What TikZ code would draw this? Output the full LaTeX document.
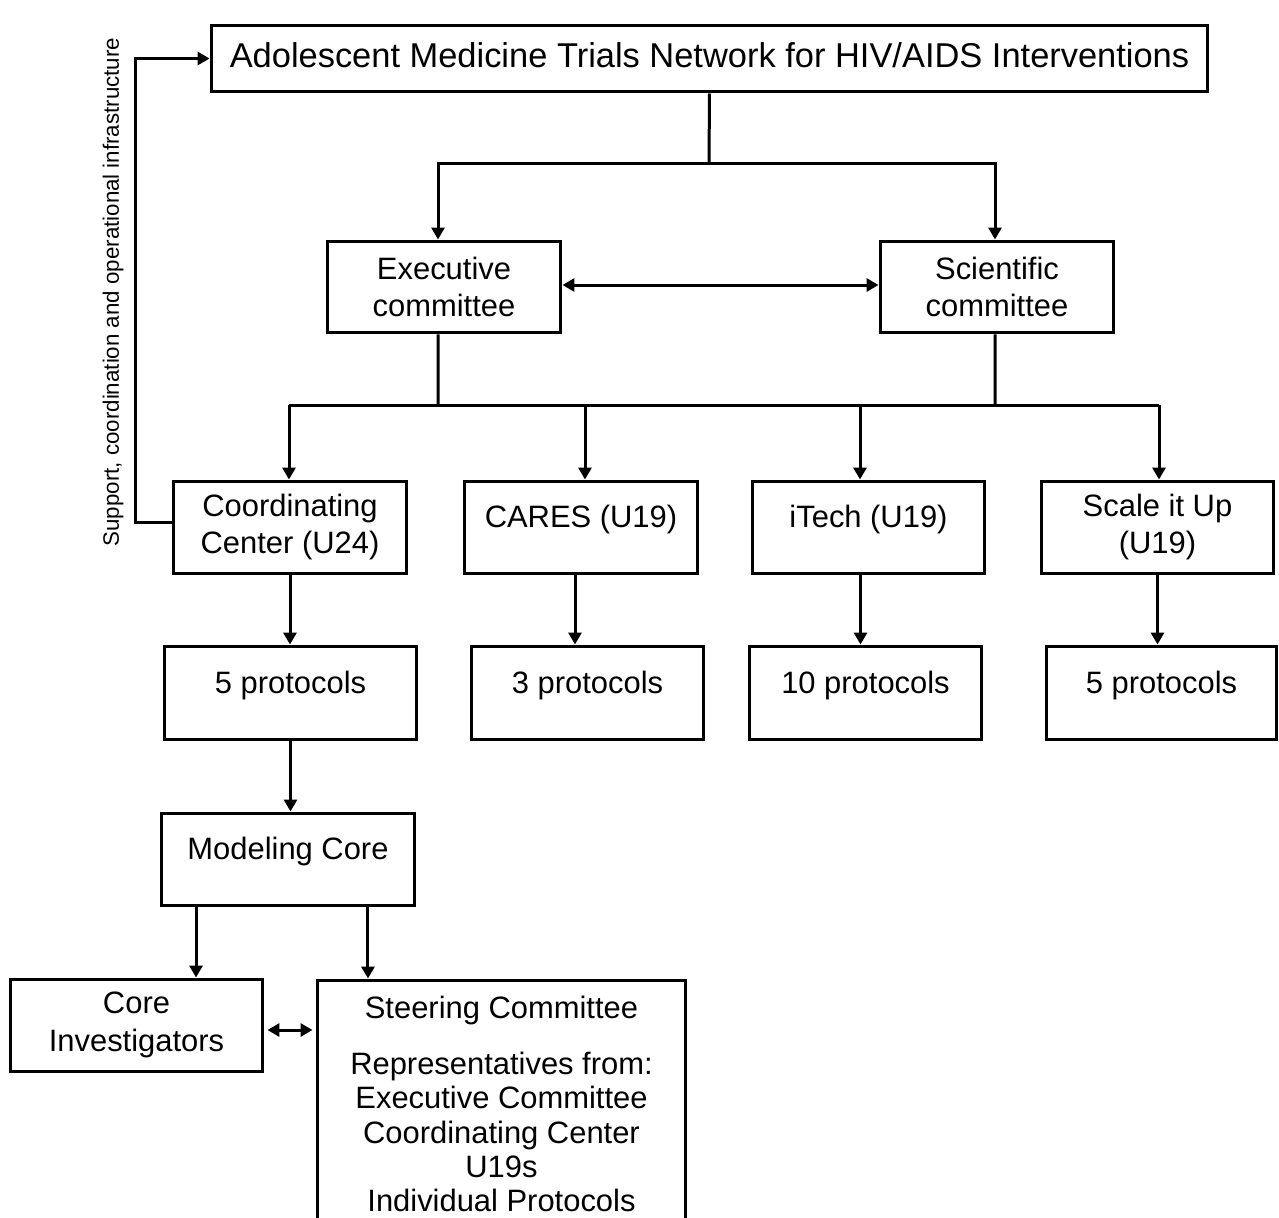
\documentclass[tikz,border=0pt]{standalone}
\usepackage{fontspec}
\setmainfont{Liberation Sans}
\usetikzlibrary{arrows.meta}
\begin{document}
\begin{tikzpicture}[x=0.02cm,y=-0.02cm,
 mainfont/.style={font=\fontsize{17.6}{21.2}\selectfont},
 box/.style={draw,line width=0.06cm,rectangle,inner sep=0pt,align=center,mainfont},
 lbl/.style={inner sep=0pt,align=center,mainfont},
 conn/.style={line width=0.06cm},
 arr/.style={conn,-{Triangle[length=0.24cm,width=0.26cm]}},
 darr/.style={conn,{Triangle[length=0.24cm,width=0.26cm]}-{Triangle[length=0.24cm,width=0.26cm]}}]
\useasboundingbox (0,0) rectangle (1279,1218);
\clip (0,0) rectangle (1279,1218);
% boxes
\node[box,minimum width=19.94cm,minimum height=1.34cm] (top) at (709.5,58.5) {};
\node[lbl,font=\fontsize{19.6}{23}\selectfont] (topT) at ([yshift=0.07cm]top.center) {Adolescent Medicine Trials Network for HIV/AIDS Interventions};
\node[box,minimum width=4.68cm,minimum height=1.84cm] (exec) at (444,287) {Executive\\committee};
\node[box,minimum width=4.68cm,minimum height=1.84cm] (sci) at (997,287) {Scientific\\committee};
\node[box,minimum width=4.68cm,minimum height=1.84cm] (coord) at (290,527) {Coordinating\\Center (U24)};
\node[box,minimum width=4.68cm,minimum height=1.84cm] (cares) at (581,527) {};
\node[lbl] (caresT) at ([yshift=0.16cm]cares.center) {CARES (U19)};
\node[box,minimum width=4.66cm,minimum height=1.84cm] (itech) at (868.5,527) {};
\node[lbl] (itechT) at ([yshift=0.16cm]itech.center) {iTech (U19)};
\node[box,minimum width=4.66cm,minimum height=1.84cm] (scale) at (1157.5,527) {Scale it Up\\(U19)};
\node[box,minimum width=5.06cm,minimum height=1.86cm] (p1) at (290.5,692.5) {};
\node[lbl] (p1T) at ([yshift=0.15cm]p1.center) {5 protocols};
\node[box,minimum width=4.66cm,minimum height=1.86cm] (p2) at (587.5,692.5) {};
\node[lbl] (p2T) at ([yshift=0.15cm]p2.center) {3 protocols};
\node[box,minimum width=4.66cm,minimum height=1.86cm] (p3) at (865.5,692.5) {};
\node[lbl] (p3T) at ([yshift=0.15cm]p3.center) {10 protocols};
\node[box,minimum width=4.62cm,minimum height=1.86cm] (p4) at (1161.5,692.5) {};
\node[lbl] (p4T) at ([yshift=0.15cm]p4.center) {5 protocols};
\node[box,minimum width=5.08cm,minimum height=1.84cm] (model) at (288,859) {};
\node[lbl] (modelT) at ([yshift=0.16cm]model.center) {Modeling Core};
\node[box,minimum width=5.06cm,minimum height=1.84cm] (coreinv) at (136.5,1025) {Core\\Investigators};
\node[box,minimum width=7.38cm,minimum height=5.6cm] (steer) at (501.5,1120) {};
\node[lbl] (steerT) at (501.5,1010) {Steering Committee};
\node[inner sep=0pt,align=center,font=\fontsize{17.6}{19.6}\selectfont] (steerB) at (501.5,1132) {Representatives from:\\Executive Committee\\Coordinating Center\\U19s\\Individual Protocols};
\node[rotate=90,inner sep=0pt,font=\fontsize{12.7}{14}\selectfont] (side) at (113,292) {Support, coordination and operational infrastructure};
% connectors
\coordinate (j1) at (709,163);
\draw[conn] (top.south) -- (j1);
\draw[arr] (j1) -| ([xshift=-0.12cm]exec.north);
\draw[arr] (j1) -| ([xshift=-0.04cm]sci.north);
\coordinate (e1) at ([yshift=0.04cm]exec.east);
\draw[darr] (e1) -- (e1 -| sci.west);
\coordinate (j2) at (438,405);
\coordinate (j3) at (995,405);
\draw[conn] ([xshift=-0.12cm]exec.south) -- (j2);
\draw[conn] ([xshift=-0.04cm]sci.south) -- (j3);
\coordinate (hl) at (289,405);
\coordinate (hr) at (1159,405);
\draw[conn] (hl) -- (hr);
\draw[arr] (hl) -- (hl |- coord.north);
\coordinate (hc) at (585,405);
\draw[arr] (hc) -- (hc |- cares.north);
\coordinate (hi) at (860,405);
\draw[arr] (hi) -- (hi |- itech.north);
\draw[arr] (hr) -- (hr |- scale.north);
\draw[arr] (coord.south) -- (coord.south |- p1.north);
\coordinate (c2) at ([xshift=-0.12cm]cares.south);
\draw[arr] (c2) -- (c2 |- p2.north);
\coordinate (c3) at ([xshift=-0.16cm]itech.south);
\draw[arr] (c3) -- (c3 |- p3.north);
\draw[arr] (scale.south) -- (scale.south |- p4.north);
\draw[arr] (p1.south) -- (p1.south |- model.north);
\coordinate (m1) at ([xshift=-1.84cm]model.south);
\draw[arr] (m1) -- (m1 |- coreinv.north);
\coordinate (m2) at ([xshift=1.6cm]model.south);
\draw[arr] (m2) -- (m2 |- steer.north);
\coordinate (ci) at ([yshift=-0.1cm]coreinv.east);
\draw[darr,shorten >=0.06cm,shorten <=0.06cm] (ci) -- (ci -| steer.west);
\coordinate (cw) at ([yshift=0.1cm]coord.west);
\draw[arr] (cw) -- ++(-36,0) |- (top.west);
\end{tikzpicture}
\end{document}
